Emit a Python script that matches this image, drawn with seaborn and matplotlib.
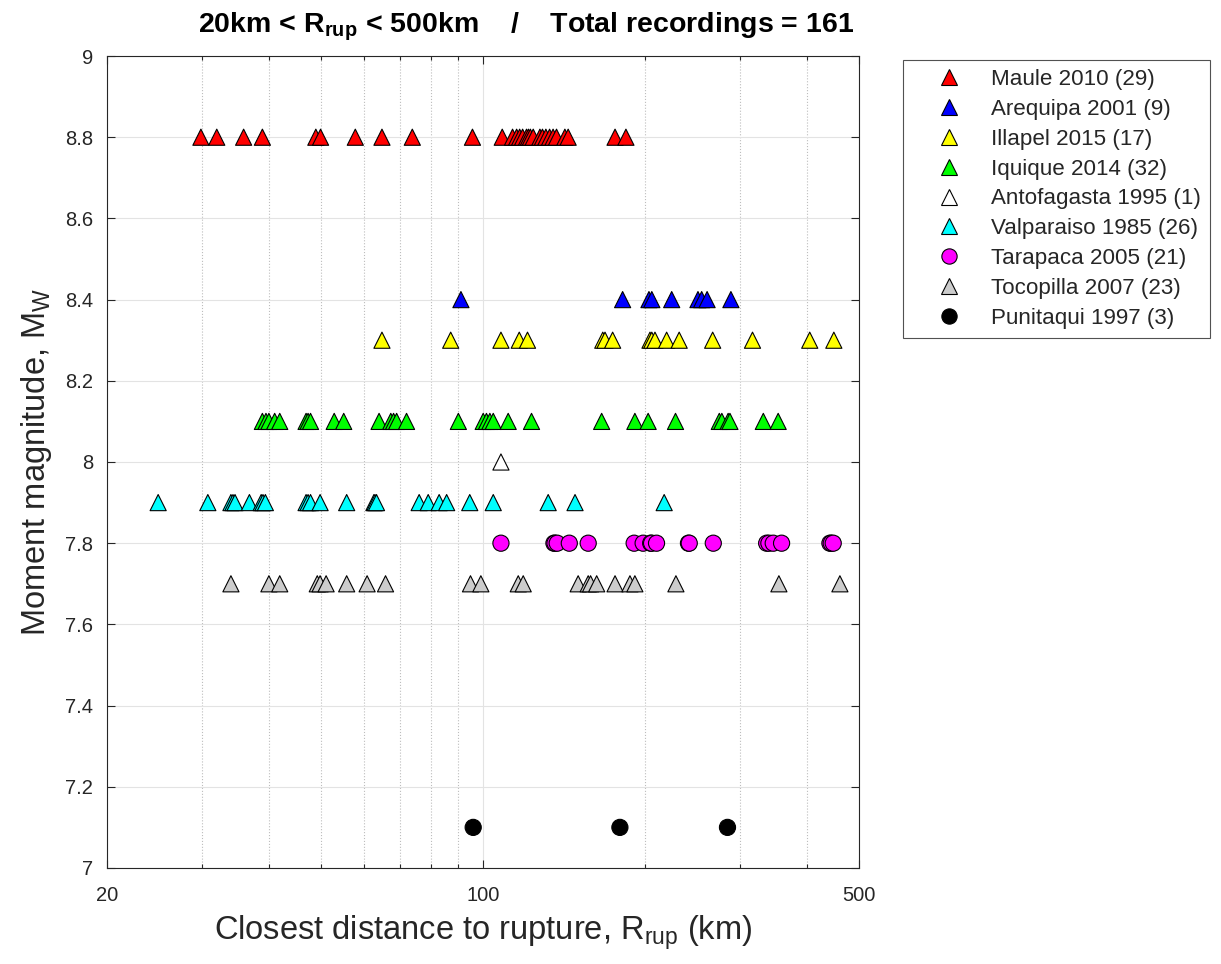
import numpy as np
import pandas as pd
import seaborn as sns
import matplotlib.pyplot as plt
from matplotlib.lines import Line2D
from matplotlib.ticker import FixedLocator, FormatStrFormatter

# distances (km), one list per event
maule = [29.9, 32.0, 35.9, 38.9, 48.9, 49.9, 57.9, 64.9, 73.9, 95.6, 108.6, 113.5,
         115.5, 117, 118.5, 120.5, 121.5, 122.5, 124, 127.6, 129, 130.9, 133, 135,
         137, 142, 144, 176, 184.4]
arequipa = [91, 181.8, 203.5, 206, 224.3, 251, 255, 261, 289]
illapel = [64.9, 87.1, 108, 116.8, 121, 167, 168.6, 174.2, 204.4, 206, 208.8, 219.5,
           231.6, 267.3, 317, 405, 449]
iquique = [38.9, 39.5, 40, 41, 41.9, 46.9, 47.3, 47.8, 52.9, 55.1, 64.1, 67.4, 68.2,
           69.1, 72.1, 90, 100.1, 101.5, 103, 104.5, 111.4, 123.1, 166.2, 191.6, 202.8,
           228, 275, 278, 285.6, 287.8, 332, 353.8]
antofagasta = [108]
valparaiso = [24.9, 30.8, 34, 34.3, 34.6, 36.8, 38.7, 39.0, 39.4, 46.9, 47.3, 47.8, 49.8,
              55.8, 62.7, 63.0, 63.4, 76.1, 79.1, 82.9, 85.6, 94.5, 104.5, 132.2, 148.3, 217.2]
tarapaca = [108, 135.5, 136.1, 137.4, 144.7, 156.9, 191, 198.5, 205, 205.8, 210.2, 241,
            241.8, 268, 336.8, 340, 346.4, 359, 441.5, 444, 447.8]
tocopilla = [34, 40, 41.9, 49.2, 49.8, 51.1, 55.8, 60.9, 65.9, 94.8, 99.1, 116.3, 118.8,
             150.3, 156.9, 158.5, 162.7, 176, 187.6, 191.6, 228.4, 354.9, 460.8]
punitaqui = [95.9, 179.7, 284.8]

events = ['Maule 2010', 'Arequipa 2001', 'Illapel 2015', 'Iquique 2014', 'Antofagasta 1995',
          'Valparaiso 1985', 'Tarapaca 2005', 'Tocopilla 2007', 'Punitaqui 1997']
dists = [maule, arequipa, illapel, iquique, antofagasta, valparaiso, tarapaca, tocopilla, punitaqui]
mags = [8.8, 8.4, 8.3, 8.1, 8.0, 7.9, 7.8, 7.7, 7.1]
colors = ['#ff0000', '#0000ff', '#ffff00', '#00ff00', '#ffffff', '#00ffff', '#ff00ff', '#cccccc', '#000000']
marks = ['^', '^', '^', '^', '^', '^', 'o', '^', 'o']

labels = [f'{e} ({len(d)})' for e, d in zip(events, dists)]
df = pd.DataFrame({
    'R': np.concatenate(dists),
    'Mw': np.concatenate([[m] * len(d) for m, d in zip(mags, dists)]),
    'event': np.concatenate([[l] * len(d) for l, d in zip(labels, dists)]),
})

sns.set_theme(style='ticks')
plt.rcParams['font.family'] = ['Liberation Sans', 'DejaVu Sans']
plt.rcParams['mathtext.fontset'] = 'custom'
plt.rcParams['mathtext.rm'] = 'Liberation Sans'
plt.rcParams['mathtext.bf'] = 'Liberation Sans:bold'

fig = plt.figure(figsize=(12.21, 9.64), dpi=100)
ax = fig.add_axes([0.0876, 0.0996, 0.6159, 0.8423])

sns.scatterplot(data=df, x='R', y='Mw', hue='event', style='event',
                palette=dict(zip(labels, colors)), markers=dict(zip(labels, marks)),
                hue_order=labels, style_order=labels,
                s=135, edgecolor='black', linewidth=0.8, legend=False, ax=ax, zorder=3)

ax.set_xscale('log')
ax.set_xlim(20, 500)
ax.set_ylim(7, 9)
ax.set_xticks([20, 100, 500])
ax.set_xticklabels(['20', '100', '500'])
ax.xaxis.set_minor_locator(FixedLocator([30, 40, 50, 60, 70, 80, 90, 200, 300, 400]))
ax.xaxis.set_minor_formatter(plt.NullFormatter())
ax.set_yticks(np.arange(7, 9.01, 0.2))
ax.yaxis.set_major_formatter(FormatStrFormatter('%g'))
ax.grid(which='major', color='#e3e3e3', lw=0.8, ls='-', zorder=0)
ax.grid(which='minor', axis='x', color='#bdbdbd', lw=0.8, ls=':', zorder=0)
ax.tick_params(which='both', direction='in', top=True, right=True, labelsize=14.5,
               length=6, width=0.8, colors='#262626')
ax.tick_params(axis='y', pad=10)
ax.tick_params(axis='x', pad=13)
ax.tick_params(which='minor', length=3)
for sp in ax.spines.values():
    sp.set_color('#262626')
    sp.set_linewidth(0.8)

ax.set_xlabel('Closest distance to rupture, R$_{\\mathrm{rup}}$ (km)', fontsize=23.5, color='#262626', labelpad=6)
ax.set_ylabel('Moment magnitude, M$_{\\mathrm{W}}$', fontsize=23.5, color='#262626', labelpad=8)

fig.text(0.431, 0.972, '20km < R$_{\\mathbf{rup}}$ < 500km    /    Total recordings = ' + str(len(df)),
         ha='center', va='center', fontsize=20.5, fontweight='bold', color='black')

handles = [Line2D([], [], ls='none', marker=m, markersize=11, markerfacecolor=c,
                  markeredgecolor='black', markeredgewidth=0.8) for m, c in zip(marks, colors)]
leg = ax.legend(handles, labels, loc='upper left', bbox_to_anchor=(1.0585, 0.995),
                fontsize=16.1, frameon=True, fancybox=False, edgecolor='#262626',
                labelspacing=0.395, handletextpad=0.2, borderpad=0.4, borderaxespad=0,
                handlelength=3.35)
leg.get_frame().set_linewidth(0.8)

fig.savefig('out.png', dpi=100)
